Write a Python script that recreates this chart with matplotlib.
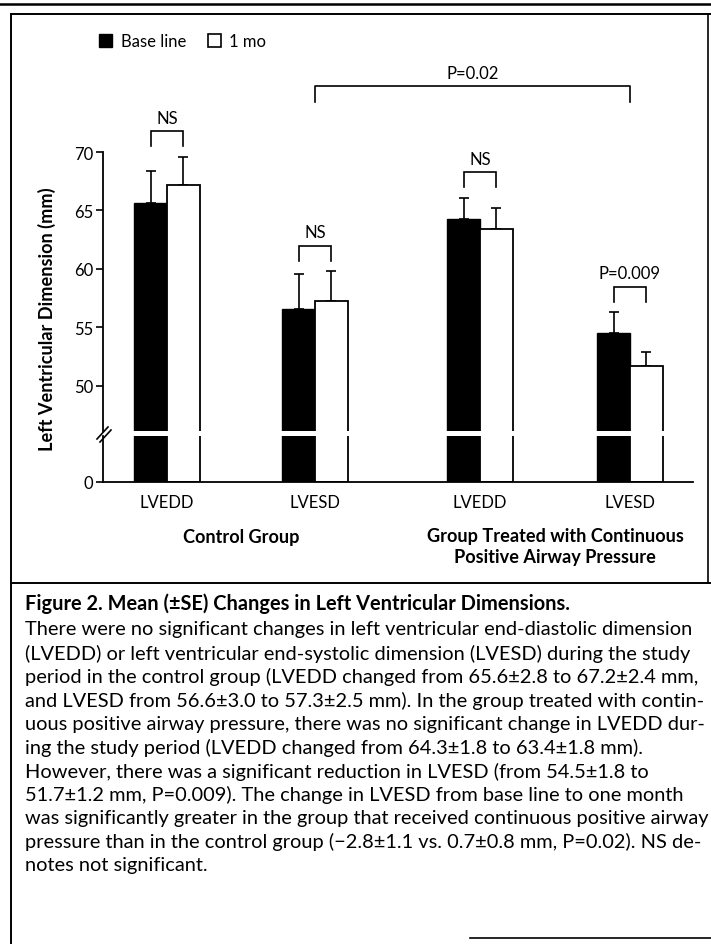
import matplotlib
matplotlib.use("Agg")
import matplotlib.pyplot as plt
from matplotlib.patches import Patch
from matplotlib.lines import Line2D
import matplotlib.transforms as mtransforms

# ---------------- data ----------------
measures = ["LVEDD", "LVESD", "LVEDD", "LVESD"]
group_names = ["Control Group", "Group Treated with Continuous\nPositive Airway Pressure"]
series_names = ["Base line", "1 mo"]
baseline_mean = [65.6, 56.6, 64.3, 54.5]
baseline_se = [2.8, 3.0, 1.8, 1.8]
month1_mean = [67.2, 57.3, 63.4, 51.7]
month1_se = [2.4, 2.5, 1.8, 1.2]
pair_labels = ["NS", "NS", "NS", "P=0.009"]
between_label = "P=0.02"
y_ticks = [50, 55, 60, 65, 70]
caption_title = "Figure 2. Mean (\u00b1SE) Changes in Left Ventricular Dimensions."
caption_lines = [
    "There were no significant changes in left ventricular end-diastolic dimension",
    "(LVEDD) or left ventricular end-systolic dimension (LVESD) during the study",
    "period in the control group (LVEDD changed from 65.6\u00b12.8 to 67.2\u00b12.4 mm,",
    "and LVESD from 56.6\u00b13.0 to 57.3\u00b12.5 mm). In the group treated with contin-",
    "uous positive airway pressure, there was no significant change in LVEDD dur-",
    "ing the study period (LVEDD changed from 64.3\u00b11.8 to 63.4\u00b11.8 mm).",
    "However, there was a significant reduction in LVESD (from 54.5\u00b11.8 to",
    "51.7\u00b11.2 mm, P=0.009). The change in LVESD from base line to one month",
    "was significantly greater in the group that received continuous positive airway",
    "pressure than in the control group (\u22122.8\u00b11.1 vs. 0.7\u00b10.8 mm, P=0.02). NS de-",
    "notes not significant.",
]

# ---------------- layout ----------------
W, H = 711, 945
FONT = ["Lato", "DejaVu Sans"]
plt.rcParams["font.family"] = FONT

fig = plt.figure(figsize=(W / 100, H / 100), dpi=100)
fig.patch.set_facecolor("white")


def fx(px):
    return px / W


def fy(py):
    return 1 - py / H


group_x = [0.0, 1.0, 2.115, 3.128]
bar_w = 0.222
xlim = (-0.432, 3.554)
LS = 12  # chart label size

ax_top = fig.add_axes([fx(103), fy(432), fx(693) - fx(103), fy(153) - fy(432)])
ax_bot = fig.add_axes([fx(103), fy(483), fx(693) - fx(103), fy(437) - fy(483)])

xb = [g - bar_w / 2 for g in group_x]
xw = [g + bar_w / 2 for g in group_x]

for ax in (ax_top, ax_bot):
    ax.bar(xb, baseline_mean, width=bar_w, color="black", edgecolor="black", linewidth=1.0, zorder=2)
    ax.bar(xw, month1_mean, width=bar_w, color="white", edgecolor="black", linewidth=1.3, zorder=2)
    ax.set_xlim(*xlim)
    ax.set_facecolor("none")
    for s in ("top", "right"):
        ax.spines[s].set_visible(False)
    for s in ("left", "bottom"):
        ax.spines[s].set_linewidth(1.3)

zeros = [0] * len(group_x)
ax_top.errorbar(xb, baseline_mean, yerr=[zeros, baseline_se], fmt="none", ecolor="black",
                elinewidth=1.2, capsize=3.5, capthick=1.2, zorder=1, clip_on=False)
ax_top.errorbar(xw, month1_mean, yerr=[zeros, month1_se], fmt="none", ecolor="black",
                elinewidth=1.2, capsize=3.5, capthick=1.2, zorder=1, clip_on=False)

ax_top.set_ylim(46.15, 70)
ax_top.spines["bottom"].set_visible(False)
ax_top.set_yticks(y_ticks)
ax_top.tick_params(axis="y", direction="out", length=5, width=1.2, pad=2, labelsize=LS)
ax_top.tick_params(axis="x", bottom=False, labelbottom=False)

ax_bot.set_ylim(0, 3.93)
ax_bot.set_yticks([0])
ax_bot.tick_params(axis="y", direction="out", length=5, width=1.2, pad=2, labelsize=LS)
ax_bot.set_xticks(group_x)
ax_bot.set_xticklabels(measures)
ax_bot.tick_params(axis="x", length=0, pad=9, labelsize=LS)

# pair brackets
for i, lab in enumerate(pair_labels):
    top = max(baseline_mean[i] + baseline_se[i], month1_mean[i] + month1_se[i]) + 2.2
    x0, x1 = xb[i], xw[i]
    ax_top.plot([x0, x0, x1, x1], [top - 1.3, top, top, top - 1.3], color="black",
                lw=1.2, clip_on=False, solid_joinstyle="miter")
    ax_top.text((x0 + x1) / 2, top + 0.45, lab, ha="center", va="bottom", fontsize=LS,
                clip_on=False)

# between-group bracket
peak = max(max(b + s for b, s in zip(baseline_mean, baseline_se)),
           max(m + s for m, s in zip(month1_mean, month1_se)))
btop = peak + 6.0
bx0, bx1 = group_x[1], group_x[3]
ax_top.plot([bx0, bx0, bx1, bx1], [btop - 1.3, btop, btop, btop - 1.3], color="black",
            lw=1.2, clip_on=False)
ax_top.text((bx0 + bx1) / 2, btop + 0.45, between_label, ha="center", va="bottom",
            fontsize=LS, clip_on=False)

# group labels
blend = mtransforms.blended_transform_factory(ax_bot.transData, fig.transFigure)
g1 = ax_bot.text((group_x[0] + group_x[1]) / 2, fy(537), group_names[0], transform=blend,
                 ha="center", va="center", fontsize=12, fontweight="bold")
g2 = ax_bot.text((group_x[2] + group_x[3]) / 2, fy(547), group_names[1], transform=blend,
                 ha="center", va="center", fontsize=12, fontweight="bold", linespacing=1.25)

# y label
ylab = fig.text(fx(47), fy(319), "Left Ventricular Dimension (mm)", rotation=90,
                ha="center", va="center", fontsize=12, fontweight="bold")

# axis break marks
for dx, dy in ((0, 0), (3, 3)):
    fig.add_artist(Line2D([fx(97 + dx), fx(108 + dx)], [fy(440 + dy), fy(428 + dy)],
                          transform=fig.transFigure, color="black", lw=1.2))

# legend
handles = [Patch(facecolor="black", edgecolor="black"),
           Patch(facecolor="white", edgecolor="black", linewidth=1.2)]
fig.legend(handles, series_names, loc="center left", bbox_to_anchor=(fx(99), fy(42)),
           ncol=2, frameon=False, fontsize=LS, handlelength=0.8, handleheight=0.8,
           handletextpad=0.5, columnspacing=1.3, borderaxespad=0, borderpad=0)

# frame lines
def hline(y, x0, x1, lw):
    fig.add_artist(Line2D([fx(x0), fx(x1)], [fy(y), fy(y)], transform=fig.transFigure,
                          color="black", lw=lw))


def vline(x, y0, y1, lw):
    fig.add_artist(Line2D([fx(x), fx(x)], [fy(y0), fy(y1)], transform=fig.transFigure,
                          color="black", lw=lw))


hline(5, 0, 711, 1.8)
hline(15, 11, 711, 1.4)
vline(11, 15, 945, 1.4)
vline(708, 15, 584, 1.2)
hline(584, 11, 711, 1.4)
hline(939, 470, 711, 1.2)

# caption
title_t = fig.text(fx(25), fy(604), caption_title, ha="left", va="center",
                   fontsize=12, fontweight="bold")
body = []
for k, line in enumerate(caption_lines):
    body.append(fig.text(fx(25), fy(630 + k * 23.6), line, ha="left", va="center",
                         fontsize=12))

# fit font sizes to the reference text widths
renderer = fig.canvas.get_renderer()


def fit(t, target, vertical=False):
    bb = t.get_window_extent(renderer)
    w = bb.height if vertical else bb.width
    t.set_fontsize(t.get_fontsize() * target / w)
    return t.get_fontsize()


fs_body = fit(body[0], 668)
for t in body:
    t.set_fontsize(fs_body)
fit(title_t, 540)
fs_grp = fit(g1, 116)
g2.set_fontsize(fs_grp)
fit(ylab, 262, vertical=True)

fig.savefig("out.png", dpi=100, facecolor="white")
